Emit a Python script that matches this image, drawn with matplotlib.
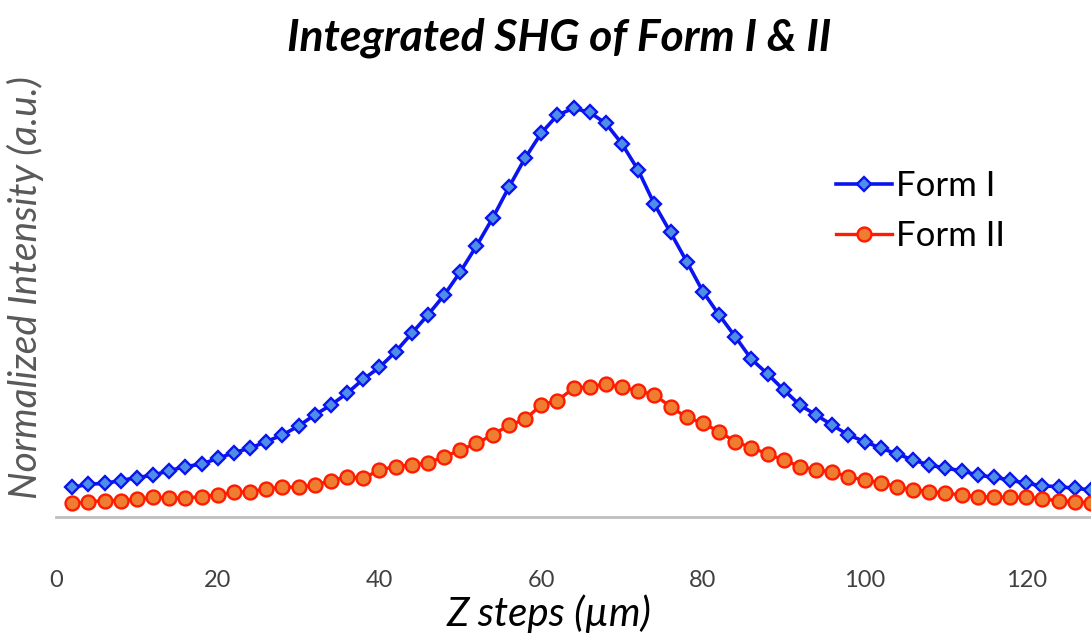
import matplotlib
matplotlib.use("Agg")
import matplotlib.pyplot as plt

# Data (normalized intensity, a.u.)
z_steps = list(range(2, 130, 2))
form_i = [0.072, 0.080, 0.082, 0.089, 0.096, 0.102, 0.113, 0.123, 0.129, 0.143,
          0.157, 0.168, 0.184, 0.200, 0.222, 0.249, 0.273, 0.302, 0.336, 0.365,
          0.403, 0.448, 0.493, 0.541, 0.598, 0.661, 0.729, 0.804, 0.875, 0.936,
          0.980, 0.997, 0.987, 0.960, 0.910, 0.846, 0.763, 0.694, 0.623, 0.550,
          0.493, 0.440, 0.385, 0.349, 0.310, 0.273, 0.249, 0.224, 0.200, 0.184,
          0.168, 0.154, 0.139, 0.127, 0.119, 0.113, 0.102, 0.097, 0.090, 0.082,
          0.076, 0.074, 0.070, 0.066]
form_ii = [0.033, 0.037, 0.040, 0.040, 0.043, 0.048, 0.046, 0.046, 0.050, 0.054,
           0.060, 0.062, 0.068, 0.074, 0.072, 0.078, 0.089, 0.098, 0.094, 0.115,
           0.123, 0.127, 0.132, 0.147, 0.163, 0.180, 0.200, 0.224, 0.238, 0.273,
           0.284, 0.314, 0.318, 0.324, 0.316, 0.308, 0.298, 0.269, 0.243, 0.229,
           0.208, 0.184, 0.169, 0.154, 0.139, 0.123, 0.115, 0.110, 0.098, 0.090,
           0.084, 0.074, 0.066, 0.062, 0.058, 0.054, 0.050, 0.048, 0.048, 0.048,
           0.044, 0.040, 0.037, 0.035]
x_ticks = [0, 20, 40, 60, 80, 100, 120]
series_labels = ["Form I", "Form II"]
title_text = "Integrated SHG of Form I & II"
x_label = "Z steps (\u00b5m)"
y_label = "Normalized Intensity (a.u.)"

FONT = ["Lato", "DejaVu Sans"]
plt.rcParams['font.family'] = FONT

fig = plt.figure(figsize=(10.91, 6.34), dpi=100)
ax = fig.add_axes([56/1091, 117/634, 1 - 56/1091, (517-90)/634])

ax.plot(z_steps, form_i, color="#0A14F0", lw=2.6, marker="D", ms=7.0,
        mfc="#4F8EE6", mec="#0A14F0", mew=1.7, label=series_labels[0])
ax.plot(z_steps, form_ii, color="#FF1A00", lw=2.4, marker="o", ms=10.0,
        mfc="#EE7D31", mec="#FF1A00", mew=1.7, label=series_labels[1])

ax.set_xlim(0, 128)
ax.set_ylim(0, (517-90)/410)
ax.set_xticks(x_ticks)
ax.set_yticks([])
for s in ["top", "right", "left"]:
    ax.spines[s].set_visible(False)
ax.spines["bottom"].set_color("#BFBFBF")
ax.spines["bottom"].set_linewidth(2)
ax.tick_params(axis="x", length=0, pad=38, labelsize=17, labelcolor="#404040")

leg = ax.legend(loc="upper left", bbox_to_anchor=(819/1091, (634-153)/634),
                bbox_transform=fig.transFigure, frameon=False, fontsize=25,
                handlelength=1.6, handletextpad=0.12, labelspacing=0.5,
                borderpad=0)

fig.text(559/1091, 1 - 38/634, title_text, ha="center", va="center",
         fontsize=32, fontweight="bold", fontstyle="italic", color="black")
fig.text(549/1091, 1 - 614/634, x_label, ha="center", va="center",
         fontsize=29, fontstyle="italic", color="black")
fig.text(25/1091, 1 - 288/634, y_label, ha="center", va="center",
         rotation=90, fontsize=28, fontstyle="italic", color="#595959")

fig.savefig("out.png", dpi=100, facecolor="white")
